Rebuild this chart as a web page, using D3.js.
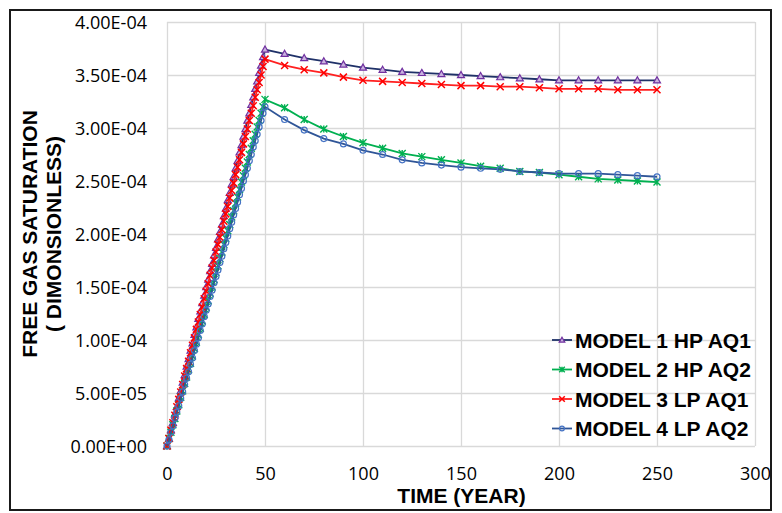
<html>
<head>
<meta charset="utf-8">
<title>free gas saturation</title>
<script src="https://cdn.jsdelivr.net/npm/d3@7"></script>
<style>
	html, body{
		margin: 0;
		padding: 0;
		background: #ffffff;
	}
	svg{
		display: block;
	}
	.tick text{
		font-family: 'Open Sans', sans-serif;
		font-size: 18px;
		fill: #000;
	}
	.title{
		font-family: 'Liberation Sans', Arial, sans-serif;
		font-weight: bold;
		fill: #000;
	}
</style>
</head>
<body>
<script>
// time in years
var years = [0, 1, 2, 3, 4, 5, 6, 7, 8, 9, 10, 11, 12, 13, 14, 15, 16, 17, 18, 19, 20,
	21, 22, 23, 24, 25, 26, 27, 28, 29, 30, 31, 32, 33, 34, 35, 36, 37, 38, 39, 40,
	41, 42, 43, 44, 45, 46, 47, 48, 49, 50,
	60, 70, 80, 90, 100, 110, 120, 130, 140, 150, 160, 170, 180, 190, 200, 210, 220, 230, 240, 250];

// saturation, in units of 1e-4
var model1 = [0, 0.07, 0.15, 0.22, 0.30, 0.37, 0.45, 0.52, 0.60, 0.67, 0.75, 0.82, 0.90, 0.97, 1.05, 1.12, 1.20,
	1.27, 1.35, 1.42, 1.50, 1.57, 1.65, 1.72, 1.80, 1.87, 1.95, 2.02, 2.09, 2.17, 2.24, 2.32, 2.39, 2.47,
	2.54, 2.62, 2.69, 2.77, 2.84, 2.92, 2.99, 3.07, 3.14, 3.22, 3.29, 3.37, 3.44, 3.52, 3.59, 3.67, 3.74,
	3.70, 3.66, 3.63, 3.60, 3.57, 3.55, 3.53, 3.52, 3.51, 3.50, 3.49, 3.48, 3.47, 3.46, 3.45, 3.45, 3.45, 3.45, 3.45, 3.45];
var model2 = [0, 0.07, 0.13, 0.20, 0.26, 0.33, 0.39, 0.46, 0.52, 0.59, 0.65, 0.72, 0.78, 0.85, 0.92, 0.98, 1.05,
	1.11, 1.18, 1.24, 1.31, 1.37, 1.44, 1.50, 1.57, 1.64, 1.70, 1.77, 1.83, 1.90, 1.96, 2.03, 2.09, 2.16,
	2.22, 2.29, 2.35, 2.42, 2.49, 2.55, 2.62, 2.68, 2.75, 2.81, 2.88, 2.94, 3.01, 3.07, 3.14, 3.20, 3.27,
	3.19, 3.08, 2.99, 2.92, 2.86, 2.81, 2.76, 2.73, 2.70, 2.67, 2.64, 2.62, 2.59, 2.58, 2.56, 2.54, 2.52, 2.51, 2.50, 2.49];
var model3 = [0, 0.07, 0.15, 0.22, 0.29, 0.37, 0.44, 0.51, 0.58, 0.66, 0.73, 0.80, 0.88, 0.95, 1.02, 1.10, 1.17,
	1.24, 1.31, 1.39, 1.46, 1.53, 1.61, 1.68, 1.75, 1.83, 1.90, 1.97, 2.04, 2.12, 2.19, 2.26, 2.34, 2.41,
	2.48, 2.56, 2.63, 2.70, 2.77, 2.85, 2.92, 2.99, 3.07, 3.14, 3.21, 3.29, 3.36, 3.43, 3.50, 3.58, 3.65,
	3.59, 3.55, 3.52, 3.48, 3.45, 3.44, 3.43, 3.42, 3.41, 3.40, 3.40, 3.39, 3.39, 3.38, 3.37, 3.37, 3.37, 3.36, 3.36, 3.36];
var model4 = [0, 0.06, 0.13, 0.19, 0.26, 0.32, 0.38, 0.45, 0.51, 0.58, 0.64, 0.70, 0.77, 0.83, 0.90, 0.96, 1.02,
	1.09, 1.15, 1.22, 1.28, 1.34, 1.41, 1.47, 1.54, 1.60, 1.66, 1.73, 1.79, 1.86, 1.92, 1.98, 2.05, 2.11,
	2.18, 2.24, 2.30, 2.37, 2.43, 2.50, 2.56, 2.62, 2.69, 2.75, 2.82, 2.88, 2.94, 3.01, 3.07, 3.14, 3.20,
	3.08, 2.98, 2.90, 2.85, 2.79, 2.75, 2.70, 2.67, 2.65, 2.63, 2.62, 2.61, 2.59, 2.58, 2.57, 2.57, 2.57, 2.56, 2.55, 2.54];
var UNIT = 1e-4;

var seriesNames = ['MODEL 1 HP AQ1', 'MODEL 2 HP AQ2', 'MODEL 3 LP AQ1', 'MODEL 4 LP AQ2'];
var xTicks = [0, 50, 100, 150, 200, 250, 300];
var yTicks = [0, 0.5e-4, 1e-4, 1.5e-4, 2e-4, 2.5e-4, 3e-4, 3.5e-4, 4e-4];

var styles = [
	{line: '#1f3168', marker: 'tri', color: '#7030a0'},
	{line: '#00b050', marker: 'star', color: '#00b050'},
	{line: '#ff2020', marker: 'cross', color: '#ff0000'},
	{line: '#2f5597', marker: 'circle', color: '#4472c4'}
];

var W = 782, H = 513,
	plotLeft = 167, plotRight = 755, plotTop = 22, plotBottom = 446;

var svg = d3.select('body').append('svg')
	.attr('width', W)
	.attr('height', H);

var x = d3.scaleLinear().domain([0, 300]).range([plotLeft, plotRight]);
var y = d3.scaleLinear().domain([0, 4e-4]).range([plotBottom, plotTop]);

function sci(d) {
	if (d === 0) return '0.00E+00';
	var e = Math.floor(Math.log10(d) + 1e-9),
		m = d / Math.pow(10, e);
	return m.toFixed(2) + 'E' + (e < 0 ? '-' : '+') + String(Math.abs(e)).padStart(2, '0');
}

// gridlines
svg.append('g').selectAll('line').data(yTicks).enter().append('line')
	.attr('x1', plotLeft).attr('x2', plotRight)
	.attr('y1', function(d){ return Math.round(y(d)) + 0.5; })
	.attr('y2', function(d){ return Math.round(y(d)) + 0.5; })
	.attr('stroke', '#d9d9d9').attr('stroke-width', 1.3);
svg.append('g').selectAll('line').data(xTicks).enter().append('line')
	.attr('y1', plotTop).attr('y2', plotBottom)
	.attr('x1', function(d){ return Math.round(x(d)) + 0.5; })
	.attr('x2', function(d){ return Math.round(x(d)) + 0.5; })
	.attr('stroke', '#d9d9d9').attr('stroke-width', 1.3);

// axes
var yAxis = svg.append('g')
	.attr('transform', 'translate(' + (plotLeft - 20) + ',0)')
	.call(d3.axisLeft(y).tickValues(yTicks).tickFormat(sci).tickSize(0).tickPadding(0));
yAxis.select('.domain').remove();
yAxis.selectAll('text').attr('dy', '0.35em');

var xAxis = svg.append('g')
	.attr('transform', 'translate(0,' + plotBottom + ')')
	.call(d3.axisBottom(x).tickValues(xTicks).tickSize(0).tickPadding(0));
xAxis.select('.domain').remove();
xAxis.selectAll('text').attr('dy', null).attr('y', 34);

// series
var allSeries = [model1, model2, model3, model4];
var line = d3.line()
	.x(function(d){ return x(d[0]); })
	.y(function(d){ return y(d[1] * UNIT); });

function drawMarker(g, kind, color, cx, cy, s) {
	if (kind === 'tri') {
		g.append('path')
			.attr('d', 'M' + cx + ',' + (cy - s) + 'L' + (cx + s) + ',' + (cy + s * 0.75) + 'L' + (cx - s) + ',' + (cy + s * 0.75) + 'Z')
			.attr('fill', '#c9b4df').attr('stroke', color).attr('stroke-width', 1.2);
	} else if (kind === 'circle') {
		g.append('circle').attr('cx', cx).attr('cy', cy).attr('r', s * 0.85)
			.attr('fill', 'none').attr('stroke', color).attr('stroke-width', 1.2);
	} else if (kind === 'cross') {
		g.append('path')
			.attr('d', 'M' + (cx - s) + ',' + (cy - s) + 'L' + (cx + s) + ',' + (cy + s) + 'M' + (cx - s) + ',' + (cy + s) + 'L' + (cx + s) + ',' + (cy - s))
			.attr('stroke', color).attr('stroke-width', 1.5);
	} else {
		g.append('path')
			.attr('d', 'M' + (cx - s) + ',' + (cy - s) + 'L' + (cx + s) + ',' + (cy + s) + 'M' + (cx - s) + ',' + (cy + s) + 'L' + (cx + s) + ',' + (cy - s) +
				'M' + cx + ',' + (cy - s) + 'L' + cx + ',' + (cy + s))
			.attr('stroke', color).attr('stroke-width', 1.4);
	}
}

allSeries.forEach(function(vals, i) {
	var pts = years.map(function(t, j){ return [t, vals[j]]; });
	var g = svg.append('g');
	g.append('path').datum(pts)
		.attr('d', line)
		.attr('fill', 'none')
		.attr('stroke', styles[i].line)
		.attr('stroke-width', 1.8);
	pts.forEach(function(p) {
		drawMarker(g, styles[i].marker, styles[i].color, x(p[0]), y(p[1] * UNIT), 3.5);
	});
});

// legend
var legend = svg.append('g');
seriesNames.forEach(function(name, i) {
	var ly = 340 + i * 29.5;
	legend.append('line')
		.attr('x1', 552).attr('x2', 572).attr('y1', ly).attr('y2', ly)
		.attr('stroke', styles[i].line).attr('stroke-width', 1.8);
	drawMarker(legend, styles[i].marker, styles[i].color, 562, ly, 2.8);
	legend.append('text')
		.attr('class', 'title')
		.attr('x', 575).attr('y', ly + 7.5)
		.style('font-size', '21px')
		.text(name);
});

// axis titles
svg.append('text')
	.attr('class', 'title')
	.attr('x', (plotLeft + plotRight) / 2 + 0.5).attr('y', 503)
	.attr('text-anchor', 'middle')
	.style('font-size', '21px')
	.text('TIME (YEAR)');

svg.append('text')
	.attr('class', 'title')
	.attr('transform', 'translate(37,234) rotate(-90)')
	.attr('text-anchor', 'middle')
	.style('font-size', '21px')
	.text('FREE GAS SATURATION');
svg.append('text')
	.attr('class', 'title')
	.attr('transform', 'translate(61,234) rotate(-90)')
	.attr('text-anchor', 'middle')
	.style('font-size', '21px')
	.text('( DIMONSIONLESS)');

// outer frame
svg.append('rect')
	.attr('x', 10).attr('y', 10)
	.attr('width', 761).attr('height', 500)
	.attr('fill', 'none')
	.attr('stroke', '#1a1a1a')
	.attr('stroke-width', 2);
</script>
</body>
</html>
